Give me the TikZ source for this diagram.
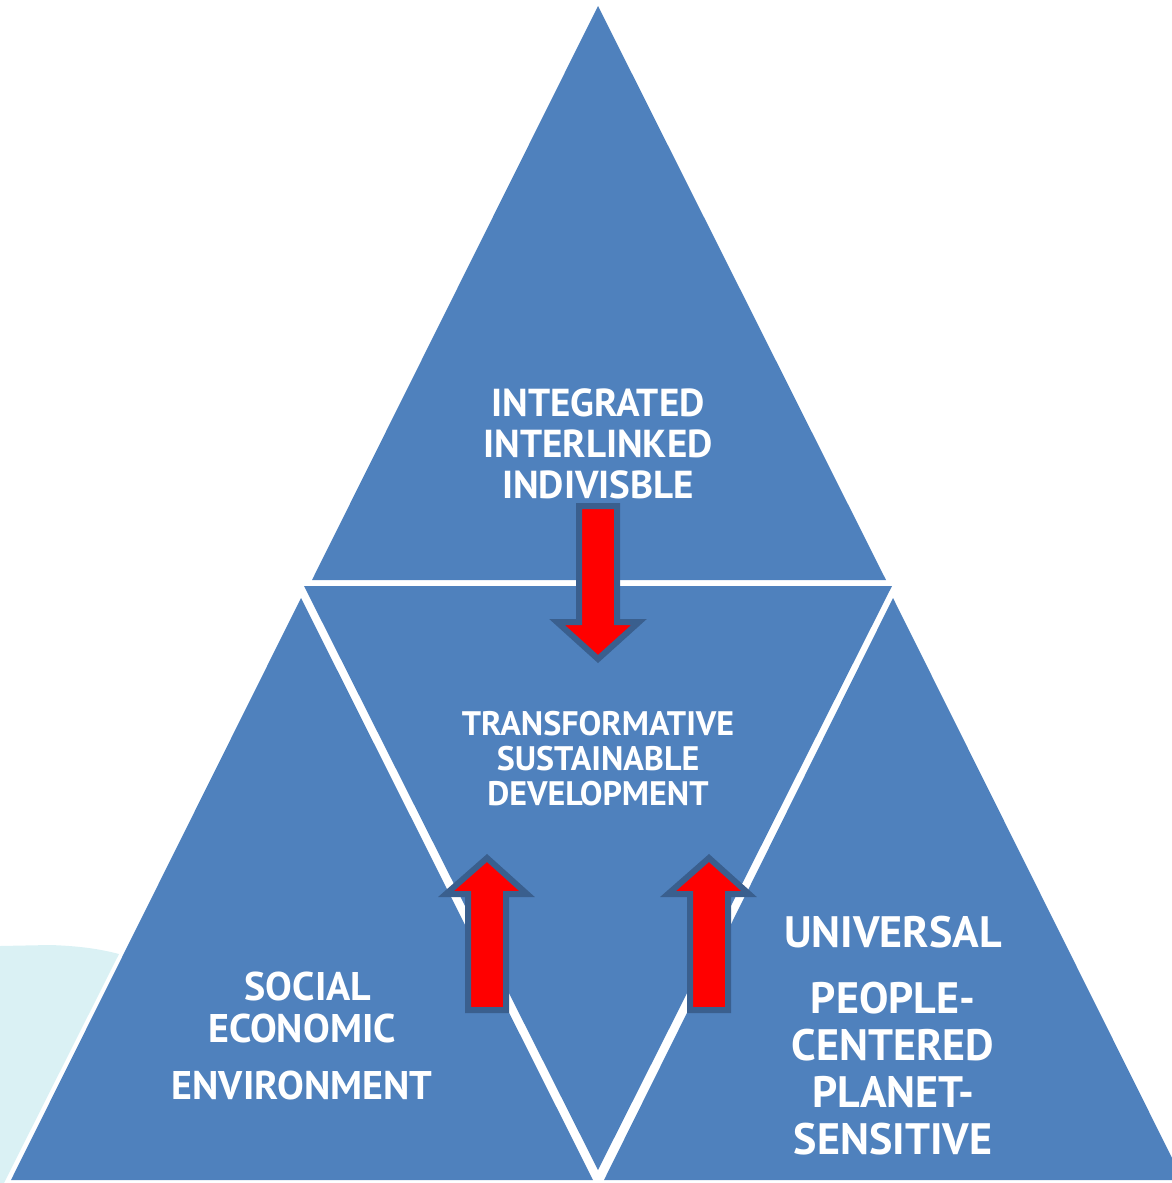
\documentclass[tikz,border=0pt]{standalone}
\usepackage{fontspec}
\setmainfont{PT Sans}
\definecolor{triblue}{HTML}{4F81BD}
\definecolor{arrowline}{HTML}{3A5F8E}
\definecolor{paleCyan}{HTML}{DAF1F4}
\tikzset{
  tri/.style={fill=triblue, draw=none},
  blockarrow/.style={fill=red, draw=arrowline, line width=6pt, line join=miter, miter limit=10},
  lbl/.style={text=white, anchor=base, inner sep=0pt, outer sep=0pt},
  topfont/.style={lbl, font=\bfseries\fontsize{39}{39}\selectfont},
  midfont/.style={lbl, font=\bfseries\fontsize{34}{34}\selectfont},
  leftfont/.style={lbl, font=\bfseries\fontsize{40}{40}\selectfont},
  rightfont/.style={lbl, font=\bfseries\fontsize{44}{44}\selectfont},
}
\begin{document}
\begin{tikzpicture}[x=1pt, y=-1pt]
\useasboundingbox (0,0) rectangle (1172,1183);
% pale background shape at lower left
\fill[paleCyan] (0,946) -- (50,945) .. controls (80,946) and (100,949) .. (119,954)
  -- (4,1183) -- (0,1183) -- cycle;
\begin{scope}
\clip (0,0) rectangle (1172,1183);
% triangles
\fill[tri] (598,6) -- (312,580) -- (886,580) -- cycle;
\fill[tri] (304,586) -- (892,586) -- (598,1170) -- cycle;
\fill[tri] (301,598) -- (11,1180) -- (593,1180) -- cycle;
\fill[tri] (893,598) -- (604,1180) -- (1183,1180) -- cycle;
\end{scope}
% arrows
\draw[blockarrow] (579,506) -- (617,506) -- (617,622) -- (639,622) -- (598,659)
  -- (557,622) -- (579,622) -- cycle;
\draw[blockarrow] (468,1010) -- (506,1010) -- (506,894) -- (527,894) -- (487,858)
  -- (446,894) -- (468,894) -- cycle;
\draw[blockarrow] (690,1010) -- (728,1010) -- (728,894) -- (749,894) -- (709,858)
  -- (668,894) -- (690,894) -- cycle;
% labels
\node[topfont] (t1) at (598,416) {INTEGRATED};
\node[topfont] (t2) at (598,457) {INTERLINKED};
\node[topfont] (t3) at (598,498) {INDIVISBLE};
\node[midfont] (m1) at (598,735) {TRANSFORMATIVE};
\node[midfont] (m2) at (598,770) {SUSTAINABLE};
\node[midfont] (m3) at (598,805) {DEVELOPMENT};
\node[leftfont] (l1) at (308,1000) {SOCIAL};
\node[leftfont] (l2) at (302,1042) {ECONOMIC};
\node[leftfont] (l3) at (302,1099) {ENVIRONMENT};
\node[rightfont] (r1) at (893,947) {UNIVERSAL};
\node[rightfont] (r2) at (893,1013) {PEOPLE-};
\node[rightfont] (r3) at (893,1060) {CENTERED};
\node[rightfont] (r4) at (893,1107) {PLANET-};
\node[rightfont] (r5) at (893,1154) {SENSITIVE};
\end{tikzpicture}
\end{document}
